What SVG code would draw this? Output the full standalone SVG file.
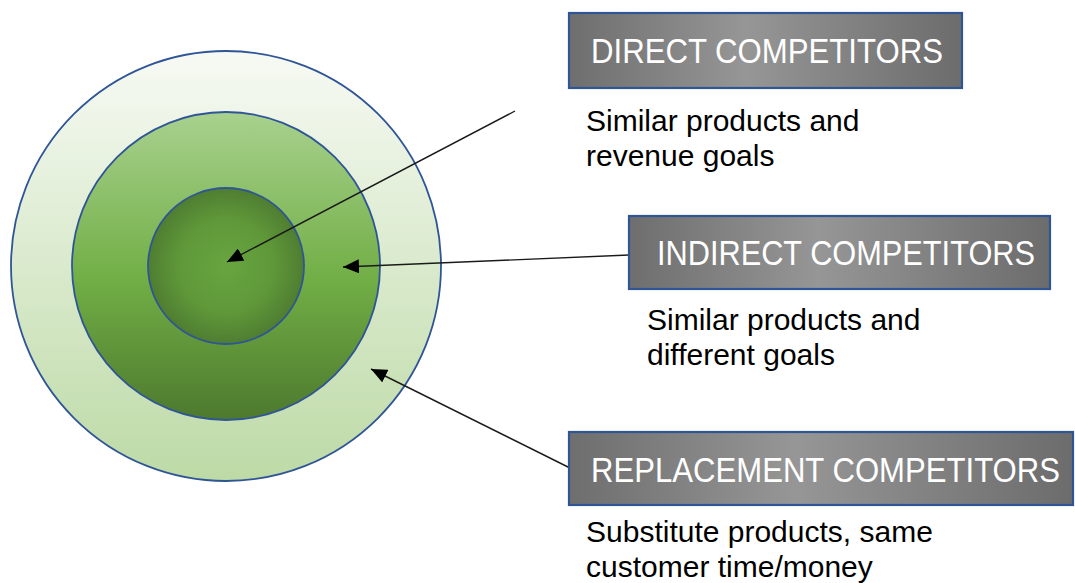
<svg xmlns="http://www.w3.org/2000/svg" width="1075" height="583" viewBox="0 0 1075 583">
  <style>
    .ring { stroke: #2f5597; stroke-width: 1.8; }
    .box { fill: url(#boxFill); stroke: #2f5597; stroke-width: 2.2; }
    .boxText { font-family: "Liberation Sans", Arial, sans-serif; font-size: 31px; fill: #ffffff; }
    .desc { font-family: "Liberation Sans", Arial, sans-serif; font-size: 30px; fill: #000000; }
    .link { stroke: #1a1a1a; stroke-width: 1.4; fill: none; marker-end: url(#tip); }
  </style>
  <defs>
    <linearGradient id="outerFill" x1="0" y1="0" x2="0" y2="1">
      <stop offset="0" stop-color="#f7faf4"/>
      <stop offset="1" stop-color="#bddaa6"/>
    </linearGradient>
    <linearGradient id="middleFill" x1="0" y1="0" x2="0" y2="1">
      <stop offset="0" stop-color="#a8d18e"/>
      <stop offset="0.55" stop-color="#71ae45"/>
      <stop offset="1" stop-color="#4d792e"/>
    </linearGradient>
    <radialGradient id="innerFill" cx="0.5" cy="0.5" r="0.5">
      <stop offset="0" stop-color="#68a540"/>
      <stop offset="0.6" stop-color="#5f9839"/>
      <stop offset="1" stop-color="#4f7d31"/>
    </radialGradient>
    <linearGradient id="boxFill" x1="0" y1="0" x2="1" y2="0">
      <stop offset="0" stop-color="#6e6e6e"/>
      <stop offset="0.45" stop-color="#969696"/>
      <stop offset="1" stop-color="#6c6c6c"/>
    </linearGradient>
    <marker id="tip" viewBox="0 0 16 14" refX="16" refY="7" markerWidth="16" markerHeight="14" markerUnits="userSpaceOnUse" orient="auto">
      <path d="M0,0 L16,7 L0,14 Z" fill="#000000"/>
    </marker>
  </defs>

  <!-- concentric competitor rings -->
  <g id="ring-replacement">
    <circle class="ring" cx="226" cy="266" r="215" fill="url(#outerFill)"/>
  </g>
  <g id="ring-indirect">
    <circle class="ring" cx="226" cy="266" r="154" fill="url(#middleFill)"/>
  </g>
  <g id="ring-direct">
    <circle class="ring" cx="226" cy="266" r="78" fill="url(#innerFill)"/>
  </g>

  <!-- connectors from labels into rings -->
  <g id="connectors">
    <line class="link" x1="515" y1="111" x2="227" y2="262"/>
    <line class="link" x1="629" y1="255" x2="343" y2="267"/>
    <line class="link" x1="570" y1="468" x2="371" y2="369"/>
  </g>

  <!-- label boxes: title text is drawn at 31px and stretched vertically -->
  <g id="direct">
    <rect class="box" x="569" y="13" width="393" height="75"/>
    <text class="boxText" transform="translate(591,63) scale(1,1.13)" x="0" y="0" textLength="352" lengthAdjust="spacingAndGlyphs">DIRECT COMPETITORS</text>
    <text class="desc" x="586" y="131">Similar products and</text>
    <text class="desc" x="586" y="166">revenue goals</text>
  </g>

  <g id="indirect">
    <rect class="box" x="629" y="216" width="421" height="73"/>
    <text class="boxText" transform="translate(657,265) scale(1,1.13)" x="0" y="0" textLength="378" lengthAdjust="spacingAndGlyphs">INDIRECT COMPETITORS</text>
    <text class="desc" x="647" y="330">Similar products and</text>
    <text class="desc" x="647" y="365">different goals</text>
  </g>

  <g id="replacement">
    <rect class="box" x="569" y="432" width="504" height="73"/>
    <text class="boxText" transform="translate(591,482) scale(1,1.13)" x="0" y="0" textLength="469" lengthAdjust="spacingAndGlyphs">REPLACEMENT COMPETITORS</text>
    <text class="desc" x="586" y="542">Substitute products, same</text>
    <text class="desc" x="586" y="577">customer time/money</text>
  </g>
</svg>
